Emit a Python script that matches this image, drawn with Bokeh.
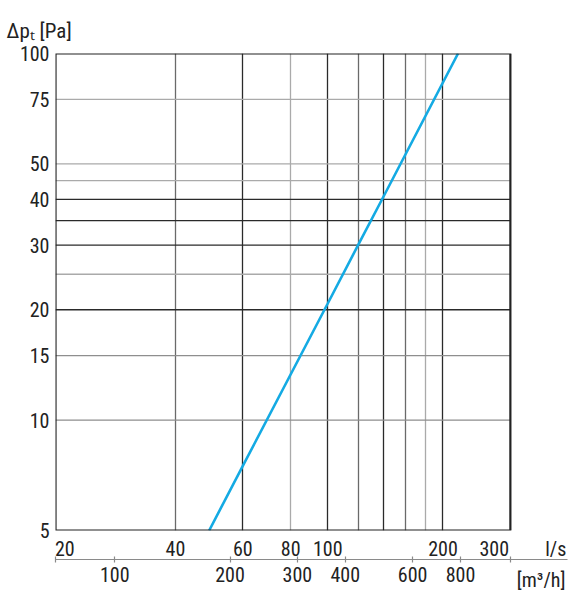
from bokeh.plotting import figure
from bokeh.models import (LinearAxis, FixedTicker, Range1d, LogScale, Grid,
                          BoxAnnotation, Label)
from bokeh.embed import file_html
from bokeh.resources import INLINE

# ---- data ----
flow_ls = [49, 60, 100, 120, 140, 219]          # l/s
pressure_pa = [5, 7.5, 20.8, 30, 40.8, 100]     # Pa

x_ticks_ls = [20, 40, 60, 80, 100, 200, 300]
x_ticks_m3h = [100, 200, 300, 400, 600, 800]
y_ticks = [5, 10, 15, 20, 30, 40, 50, 75, 100]

grid_v_dark = [60, 100, 140, 200]
grid_v_mid = [40, 120, 160]
grid_v_light = [80, 180]
grid_h_dark = [20, 30, 35, 40]
grid_h_mid = [10, 15]
grid_h_light = [25, 45, 50, 75]

LS_TO_M3H = 3.6
x_min_m3h = 70
x_start = x_min_m3h / LS_TO_M3H
x_plot_end = 300
x_end = 423
x_unit_pos = 394          # where the "l/s" unit text sits on the l/s axis
y_start, y_end = 5, 100

FONT = "Roboto Condensed"
FS = "20px"
TXT = "#222222"
NB = "\u00a0"

p = figure(width=584, height=600, x_axis_type="log", y_axis_type="log",
           x_axis_location=None, y_axis_location=None,
           x_range=Range1d(x_start, x_end), y_range=Range1d(y_start, y_end),
           output_backend="svg", toolbar_location=None,
           min_border_left=55, min_border_right=17, min_border_top=53,
           min_border_bottom=70)
p.outline_line_color = None
p.background_fill_color = "white"
p.border_fill_color = "white"
p.center = [r for r in p.center if not isinstance(r, Grid)]

p.extra_x_ranges = {"m3h": Range1d(x_min_m3h, x_end * LS_TO_M3H)}
p.extra_x_scales = {"m3h": LogScale()}

def add_vgrid(ticks, color):
    p.add_layout(Grid(dimension=0, ticker=FixedTicker(ticks=ticks),
                      grid_line_color=color, grid_line_width=1.3))

def add_hgrid(ticks, color):
    n = len(ticks)
    p.segment(x0=[x_start] * n, y0=ticks, x1=[x_plot_end] * n, y1=ticks,
              line_color=color, line_width=1.3)

add_hgrid(grid_h_light, "#aaaaaa")
add_hgrid(grid_h_mid, "#8e8e8e")
add_hgrid(grid_h_dark, "#2a2a2a")
add_vgrid(grid_v_light, "#aaaaaa")
add_vgrid(grid_v_mid, "#6a6a6a")
add_vgrid(grid_v_dark, "#2a2a2a")

p.line(flow_ls, pressure_pa, line_color="#14aae3", line_width=2.6)

# chart frame
p.add_layout(BoxAnnotation(right=x_plot_end, fill_alpha=0, line_color="#222222",
                           line_alpha=1, line_width=2.2))

yax = LinearAxis(ticker=FixedTicker(ticks=y_ticks), axis_line_color=None,
                 major_tick_line_color=None, major_tick_in=0, major_tick_out=0,
                 major_label_standoff=6, major_label_text_font=FONT,
                 major_label_text_font_size=FS, major_label_text_color=TXT)
p.add_layout(yax, "left")

xax = LinearAxis(ticker=FixedTicker(ticks=x_ticks_ls + [x_unit_pos]),
                 major_label_overrides={x_ticks_ls[0]: NB * 2 + str(x_ticks_ls[0]),
                                        x_ticks_ls[-1]: str(x_ticks_ls[-1]) + NB * 7,
                                        x_unit_pos: "l/s"},
                 axis_line_color=None,
                 major_tick_line_color=None, major_tick_in=0, major_tick_out=0,
                 major_label_standoff=6, major_label_text_font=FONT,
                 major_label_text_font_size=FS, major_label_text_color=TXT,
                 axis_label=" ", axis_label_text_font_size="2px",
                 axis_label_standoff=-9)
p.add_layout(xax, "below")

x2 = LinearAxis(x_range_name="m3h",
                ticker=FixedTicker(ticks=[x_min_m3h] + x_ticks_m3h + [x_plot_end * LS_TO_M3H]),
                major_label_overrides={x_min_m3h: "", int(x_plot_end * LS_TO_M3H): ""},
                axis_line_color="#8a8a8a", axis_line_width=1.2,
                major_tick_line_color="#8a8a8a", major_tick_line_width=1.2,
                major_tick_in=3, major_tick_out=3, major_label_standoff=4,
                major_label_text_font=FONT, major_label_text_font_size=FS,
                major_label_text_color=TXT)
p.add_layout(x2, "below")

# texts outside the frame, in the top side panel (screen pixels:
# x from the frame's left edge, y upwards from each label row's bottom edge)
def lab(text, x, y, align="left", size=FS):
    p.add_layout(Label(x=x, y=y, x_units="screen", y_units="screen", text=text,
                       text_align=align, text_baseline="alphabetic",
                       text_font=FONT, text_font_size=size, text_color=TXT),
                 "above")

lab("Δpₜ [Pa]", -49, 22.3, size="21px")
lab("[m³/h]", 510, -550, "right")

open("out.html", "w").write(file_html(p, INLINE))
